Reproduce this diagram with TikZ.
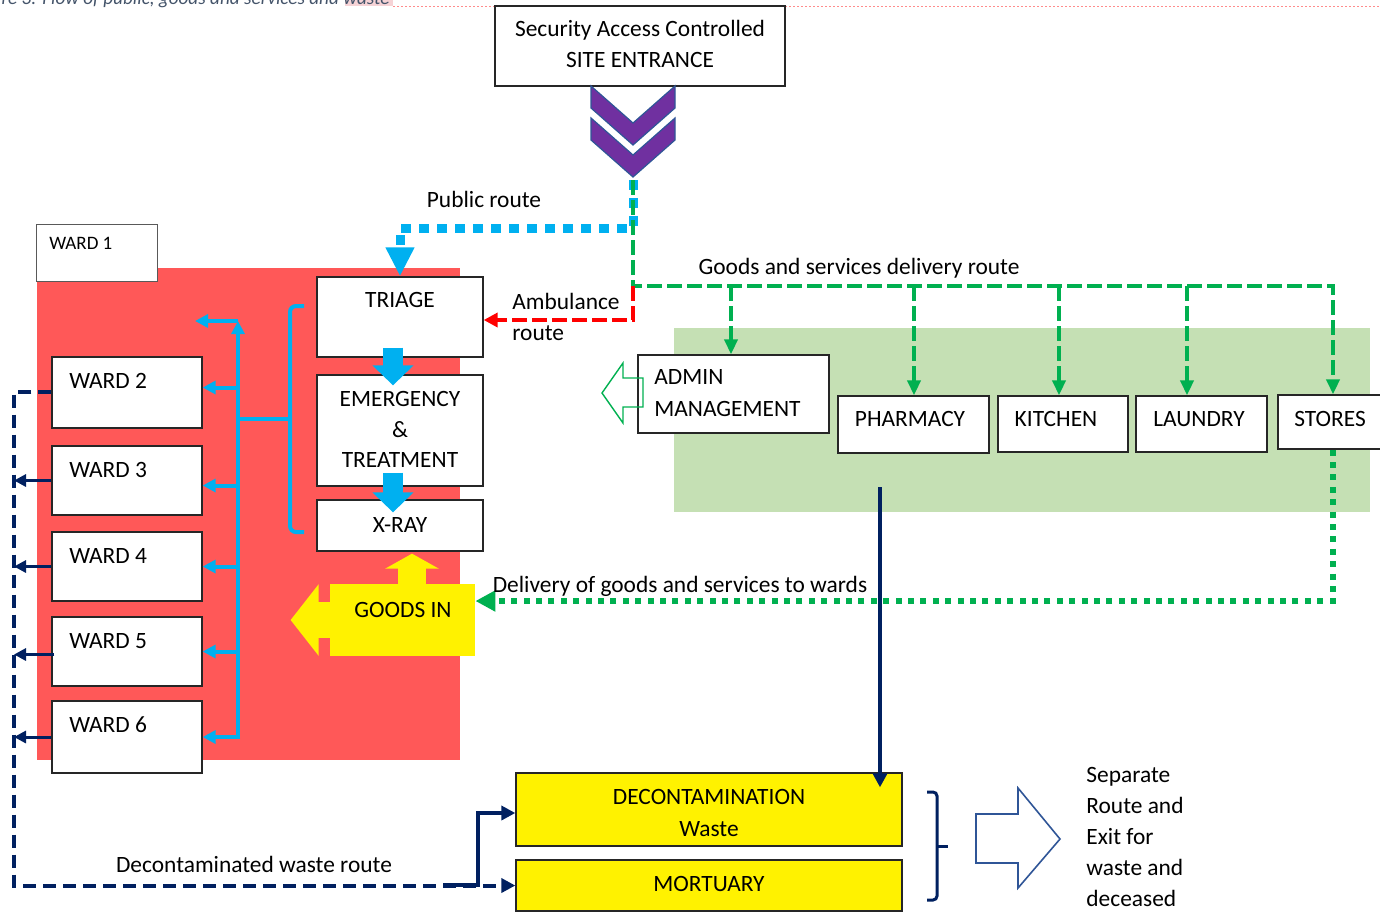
\documentclass[tikz,border=0pt]{standalone}
\usepackage{fontspec}
\setmainfont{Carlito}
\usetikzlibrary{arrows.meta,fit,calc}
\definecolor{navy}{HTML}{002060}
\definecolor{sky}{HTML}{00B0F0}
\definecolor{grn}{HTML}{00B050}
\definecolor{purp}{HTML}{7030A0}
\definecolor{chevb}{HTML}{2F5597}
\definecolor{redbg}{HTML}{FF5858}
\definecolor{greenbg}{HTML}{C5E0B4}
\definecolor{capgray}{HTML}{44546A}
\definecolor{capmark}{HTML}{F6D3D6}
\definecolor{boxline}{HTML}{262626}
\begin{document}
\begin{tikzpicture}[x=0.5pt,y=-0.5pt,
  box/.style={draw=boxline, line width=0.65pt, fill=white, inner sep=0pt},
  ybox/.style={box, fill=yellow},
  zone/.style={inner sep=0pt, draw=none},
  lbl/.style={inner sep=0pt, text height=7.5pt, text depth=0pt, font=\fontsize{11.7}{14}\selectfont},
  lblw/.style={lbl, anchor=west},
  chevron/.style={fill=purp, draw=chevb, line width=0.6pt, line join=miter},
  pubroute/.style={sky, line width=4.5pt, dash pattern=on 5pt off 4pt, -{Triangle[length=14.5pt,width=13.5pt]}},
  goodsroute/.style={grn, line width=2pt, dash pattern=on 7.5pt off 2.5pt},
  goodsbranch/.style={goodsroute, -{Triangle[length=7.5pt,width=6.5pt]}},
  ambroute/.style={red, line width=2pt, dash pattern=on 7.5pt off 2.5pt, -{Triangle[length=7pt,width=7pt]}},
  storesroute/.style={grn, line width=3pt, dash pattern=on 3pt off 3.2pt, -{Triangle[length=10pt,width=10pt]}},
  wasteroute/.style={navy, line width=2pt, dash pattern=on 6.5pt off 3.5pt, -{Triangle[length=7pt,width=7pt]}},
  wardout/.style={navy, line width=1.5pt, -{Triangle[length=6pt,width=6pt]}},
  navyline/.style={navy, line width=2pt, -{Triangle[length=7pt,width=7pt]}},
  treeline/.style={sky, line width=2pt, -{Triangle[length=6.5pt,width=6.5pt]}},
  blockarrow/.style={sky, line width=10pt, -{Triangle[length=10pt,width=20pt]}},
  hollowg/.style={draw=grn, line width=0.7pt, line join=miter},
  hollowb/.style={draw=chevb, line width=0.8pt, fill=white, line join=miter}
]
\useasboundingbox (0,0) rectangle (1380,912);
\clip (0,0) rectangle (1380,912);

% caption remnant
\fill[capmark] (345,-10) rectangle (393,6);
\node[inner sep=0pt, anchor=base east, text=capgray, font=\fontsize{9.6}{11}\selectfont\itshape] (caption) at (390,4) {Figure 3: Flow of public, goods and services and waste};
\draw[red!45, line width=0.4pt, dash pattern=on 1pt off 1pt] (393,6) -- (1380,6);

% zones
\node[zone, fill=redbg, fit={(37,268)(460,760)}] (redzone) {};
\node[zone, fill=greenbg, fit={(674,328)(1370,512)}] (greenzone) {};

% boxes
\node[box, fit={(495,6)(785,86)}] (entrance) {};
\node[box, draw=black!65, line width=0.5pt, fit={(36,224)(157,281)}] (ward1) {};
\node[box, fit={(317,277)(483,357)}] (triage) {};
\node[box, fit={(317,375)(483,486)}] (emerg) {};
\node[box, fit={(317,500)(483,551)}] (xray) {};
\node[box, fit={(52,357)(202,428)}] (ward2) {};
\node[box, fit={(52,446)(202,515)}] (ward3) {};
\node[box, fit={(52,532)(202,601)}] (ward4) {};
\node[box, fit={(52,617)(202,686)}] (ward5) {};
\node[box, fit={(52,701)(202,773)}] (ward6) {};
\node[box, fit={(638,355)(829,433)}] (admin) {};
\node[box, fit={(838,396)(989,453)}] (pharmacy) {};
\node[box, fit={(998,396)(1128,452)}] (kitchen) {};
\node[box, fit={(1136,396)(1267,452)}] (laundry) {};
\node[box, fit={(1278,395)(1400,449)}] (stores) {};
\node[ybox, fit={(516,773)(902,846)}] (decon) {};
\node[ybox, fit={(516,860)(902,911)}] (mortuary) {};
\node[zone, fill=yellow, fit={(330,584)(475,656)}] (goodsin) {};

% chevrons
\draw[chevron] (591,86) -- (633,123) -- (675,86) -- (675,108) -- (633,145) -- (591,108) -- cycle;
\draw[chevron] (591,118) -- (633,155) -- (675,118) -- (675,140) -- (633,177) -- (591,140) -- cycle;
\coordinate (gate) at (633,180);

% public route
\coordinate (p1) at (633,228);
\draw[pubroute] (gate) -- (p1) -- (p1 -| triage.north) -- (triage.north);

% goods and services route
\coordinate (j0) at (633,286);
\coordinate (g1) at (731,286);
\coordinate (g2) at (914,286);
\coordinate (g3) at (1059,286);
\coordinate (g4) at (1187,286);
\coordinate (g5) at (1333,286);
\draw[goodsbranch] (gate) -- (j0) -- (g5) -- (g5 |- stores.north);
\draw[goodsbranch] (g1) -- (g1 |- admin.north);
\draw[goodsbranch] (g2) -- (g2 |- pharmacy.north);
\draw[goodsbranch] (g3) -- (g3 |- kitchen.north);
\draw[goodsbranch] (g4) -- (g4 |- laundry.north);

% ambulance route
\coordinate (amb) at (633,320);
\draw[ambroute] (j0) -- (amb) -- (triage.east |- amb);

% delivery to wards
\coordinate (dl) at (1333,601);
\draw[storesroute] (g5 |- stores.south) -- (dl) -- (goodsin.east |- dl);

% waste vertical
\coordinate (wtop) at (880,487);
\draw[navyline] (wtop) -- ($(wtop |- decon.north)+(0,15)$);

% decontaminated waste route
\coordinate (wl) at (14,392);
\draw[wasteroute] (ward2.west |- wl) -- (wl) -- (wl |- mortuary.west) -- (mortuary.west);
\draw[wardout] (ward3.west) -- (wl |- ward3.west);
\draw[wardout] (ward4.west) -- (wl |- ward4.west);
\draw[wardout] ($(ward5.west)+(3,3)$) -- ($(wl |- ward5.west)+(0,3)$);
\draw[wardout] (ward6.west) -- (wl |- ward6.west);
\coordinate (sb) at (443,885);
\coordinate (sc) at (478,885);
\coordinate (sd) at (478,813);
\draw[navyline] (sb) -- (sc) -- (sd) -- (decon.west |- sd);

% blue distribution tree
\coordinate (tb) at (238,737);
\coordinate (tt) at (238,321);
\coordinate (w1a) at (195,321);
\draw[treeline] (tb) -- (tt);
\draw[treeline] (tt) -- (w1a);
\draw[treeline, shorten <=-1pt] (tb) -- (tb -| ward6.east);
\coordinate (w2a) at ($(ward2.east)+(0,-5)$);
\coordinate (w3a) at ($(ward3.east)+(0,5)$);
\draw[treeline] (tb |- w2a) -- (w2a);
\draw[treeline] (tb |- w3a) -- (w3a);
\draw[treeline] (tb |- ward4.east) -- (ward4.east);
\draw[treeline] (tb |- ward5.east) -- (ward5.east);
\draw[sky, line width=2pt, rounded corners=3pt] (304,306) -- (290,306) -- (290,532) -- (304,532);
\draw[sky, line width=2pt] (290,419) -- (238,419);

% block arrows
\draw[blockarrow] ($(triage.south)+(-7,-10)$) -- ($(emerg.north)+(-7,11)$);
\draw[blockarrow] ($(emerg.south)+(-7,-14)$) -- ($(xray.north)+(-7,13)$);
\draw[yellow, line width=18pt, -{Triangle[length=14pt,width=35pt]}] ($(goodsin.west)+(1,0)$) -- ($(goodsin.west)+(-39,0)$);
\draw[yellow, line width=14pt, -{Triangle[length=7.5pt,width=26.5pt]}] ($(goodsin.north)+(9.5,1)$) -- ($(xray.south)+(12,2)$);

% hollow arrows and brace
\draw[hollowg] (643,378) -- (623,378) -- (623,363) -- (602,393) -- (623,423) -- (623,407) -- (643,407) -- cycle;
\draw[hollowb] (976,814) -- (1018,814) -- (1018,788) -- (1060,839) -- (1018,888) -- (1018,863) -- (976,863) -- cycle;
\draw[navy, line width=1.5pt, rounded corners=2pt] (927,792) -- (937,792) -- (937,900) -- (927,900);
\draw[navy, line width=1.5pt] (937,846) -- (948,846);

% labels
\node[lbl] (t-ent1) at (640,29) {Security Access Controlled};
\node[lbl] (t-ent2) at (640,60) {SITE ENTRANCE};
\node[lbl] (t-pub) at (484,200) {Public route};
\node[lbl] (t-goods) at (859,267) {Goods and services delivery route};
\node[lblw] (t-amb1) at (512,302) {Ambulance};
\node[lblw] (t-amb2) at (512,333) {route};
\node[inner sep=0pt, text height=6.1pt, text depth=0pt, anchor=west, font=\fontsize{9.5}{11}\selectfont] (t-w1) at (49,243) {WARD 1};
\node[lbl] (t-tri) at (400,300) {TRIAGE};
\node[lbl] (t-em1) at (400,399) {EMERGENCY};
\node[lbl] (t-em2) at (400,430) {\&};
\node[lbl] (t-em3) at (400,460) {TREATMENT};
\node[lbl] (t-xr) at (400,525) {X-RAY};
\node[lbl] (t-gi) at (403,610) {GOODS IN};
\node[lblw] (t-w2) at (69,381) {WARD 2};
\node[lblw] (t-w3) at (69,470) {WARD 3};
\node[lblw] (t-w4) at (69,556) {WARD 4};
\node[lblw] (t-w5) at (69,641) {WARD 5};
\node[lblw] (t-w6) at (69,725) {WARD 6};
\node[lblw] (t-ad1) at (654,377) {ADMIN};
\node[lblw] (t-ad2) at (654,409) {MANAGEMENT};
\node[lbl] (t-ph) at (910,419) {PHARMACY};
\node[lbl] (t-ki) at (1056,419) {KITCHEN};
\node[lbl] (t-la) at (1199,419) {LAUNDRY};
\node[lbl] (t-st) at (1330,419) {STORES};
\node[lbl] (t-del) at (680,585) {Delivery of goods and services to wards};
\node[lbl] (t-dwr) at (254,865) {Decontaminated waste route};
\node[lbl] (t-dc1) at (709,797) {DECONTAMINATION};
\node[lbl] (t-dc2) at (709,829) {Waste};
\node[lbl] (t-mo) at (709,884) {MORTUARY};
\node[lblw] (t-s1) at (1086,775) {Separate};
\node[lblw] (t-s2) at (1086,806) {Route and};
\node[lblw] (t-s3) at (1086,837) {Exit for};
\node[lblw] (t-s4) at (1086,868) {waste and};
\node[lblw] (t-s5) at (1086,899) {deceased};
\end{tikzpicture}
\end{document}
